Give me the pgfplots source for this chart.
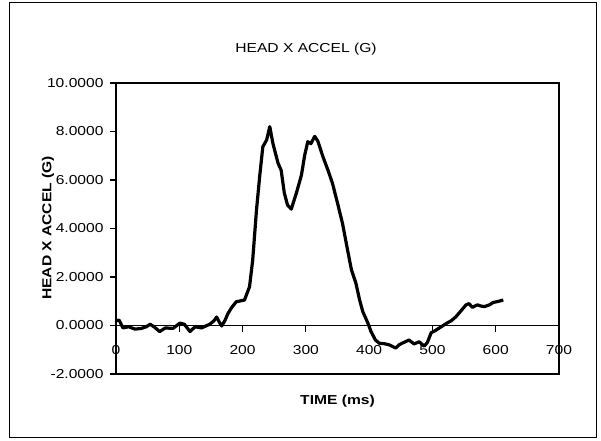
\documentclass[border=0pt]{standalone}
\usepackage{pgfplots}
\pgfplotsset{compat=1.18}
\usepackage{fontspec}
\setmainfont{Liberation Sans}[FakeStretch=1.2]

\begin{document}
\begin{tikzpicture}[x=1pt, y=1pt]
\begin{axis}[
    scale only axis,
    width=443pt, height=291pt,
    xmin=0, xmax=700, ymin=-2, ymax=10,
    axis x line=middle, axis y line=left,
    axis line style={-, line width=1.6pt},
    xtick={0,100,...,700},
    ytick={-2,0,...,10},
    tick align=outside,
    major tick length=6pt,
    tick style={line width=1.2pt, black},
    hide obscured x ticks=false,
    hide obscured y ticks=false,
    /pgf/number format/assume math mode=true,
    tick label style={font=\fontsize{13}{15}\selectfont},
    yticklabel style={xshift=-3pt, /pgf/number format/.cd, fixed, fixed zerofill, precision=4},
    xticklabel style={yshift=-10pt, /pgf/number format/.cd, fixed, precision=0},
    xlabel={TIME (ms)},
    ylabel={HEAD X ACCEL (G)},
    label style={font=\fontsize{13}{15}\selectfont\bfseries},
    xlabel style={at={(axis description cs:0.5,-0.093)}, anchor=center},
    ylabel style={at={(axis description cs:-0.1535,0.502)}, anchor=center, rotate=0},
    clip=false,
]
\draw[line width=2.2pt] (rel axis cs:0,0) rectangle (rel axis cs:1,1);
\addplot[black, line width=3.2pt, line join=round] coordinates {
(0,0.2) (5,0.22) (11,-0.1) (20,-0.05) (30,-0.15) (40,-0.12) (48,-0.05)
(54,0.05) (60,-0.05) (69,-0.25) (78,-0.1) (90,-0.12) (101,0.1) (108,0.05)
(117,-0.25) (125,-0.05) (135,-0.1) (148,0.05) (155,0.2) (159,0.35) (163,0.15)
(167,-0.02) (172,0.2) (177,0.5) (183,0.75) (190,0.98) (203,1.05) (211,1.6)
(216,2.7) (222,4.76) (227,6.14) (232,7.37) (238,7.65) (243,8.2) (248,7.5)
(256,6.7) (261,6.4) (266,5.46) (271,4.97) (277,4.8) (285,5.46) (293,6.2)
(298,7.0) (303,7.58) (308,7.5) (314,7.8) (319,7.6) (327,6.96) (335,6.4)
(342,5.87) (350,5.05) (358,4.2) (366,3.1) (372,2.3) (379,1.75) (385,1.05)
(390,0.57) (398,0.1) (403,-0.25) (410,-0.6) (416,-0.73) (424,-0.75) (432,-0.8)
(442,-0.93) (447,-0.8) (453,-0.72) (463,-0.6) (471,-0.76) (479,-0.67) (487,-0.85)
(492,-0.7) (498,-0.3) (505,-0.2) (511,-0.1) (517,0.0) (523,0.1) (530,0.2)
(537,0.36) (545,0.6) (553,0.85) (558,0.9) (563,0.75) (571,0.85) (577,0.8)
(582,0.78) (590,0.85) (596,0.95) (605,1.0) (612,1.05)
};
\end{axis}
% chart title and outer frame, in pt measured from the plot's lower left corner
\node[font=\fontsize{13}{15}\selectfont] at (190pt,325pt) {HEAD X ACCEL (G)};
\draw[line width=1pt] (-106pt,-63pt) rectangle (480pt,371pt);
\path[use as bounding box] (-116pt,-66pt) rectangle (485pt,374pt);
\end{tikzpicture}
\end{document}
